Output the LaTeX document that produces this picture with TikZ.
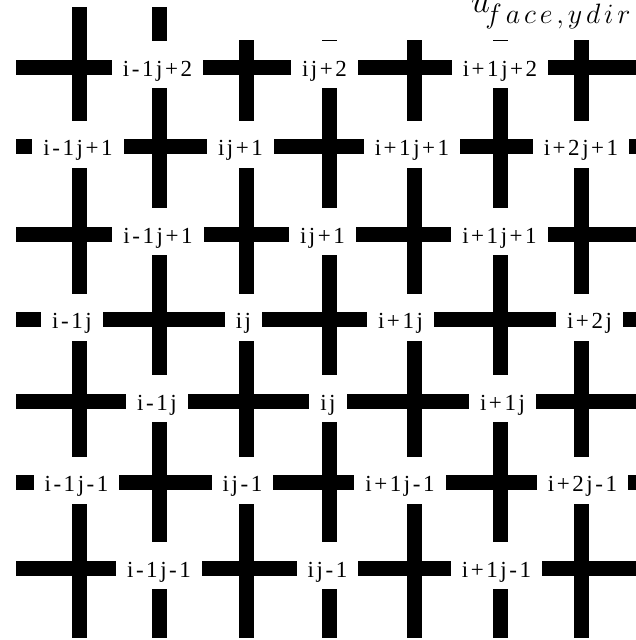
\RequirePackage{fix-cm}
\documentclass[tikz,border=0pt]{standalone}
\usepackage{fontspec}
\setmainfont{Liberation Serif}[LetterSpace=11]
\DeclareMathSizes{34}{34}{28}{20}

\begin{document}
\begin{tikzpicture}[
			x=1pt, y=-1pt,
			bar/.style={line width=15pt},
			cell/.style={fill=white, inner xsep=11pt, inner ysep=0pt, text height=35pt, text depth=12pt, font=\fontsize{23}{25}\selectfont},
			face_title/.style={anchor=base west, inner sep=0pt, font=\fontsize{34}{34}\selectfont}
			]
			\clip (0,0) rectangle (636,640);
			
			% Vertical grid bars
			\draw[bar] (79.5,7) -- (79.5,638);
			\draw[bar] (159.5,7) -- (159.5,638);
			\draw[bar] (246.5,7) -- (246.5,638);
			\draw[bar] (329.5,7) -- (329.5,638);
			\draw[bar] (414.5,7) -- (414.5,638);
			\draw[bar] (500.5,7) -- (500.5,638);
			\draw[bar] (581.5,7) -- (581.5,638);
			
			% Horizontal grid bars
			\draw[bar] (16,67) -- (645,67);
			\draw[bar] (16,146.5) -- (645,146.5);
			\draw[bar] (16,234) -- (645,234);
			\draw[bar] (16,319.5) -- (645,319.5);
			\draw[bar] (16,401) -- (645,401);
			\draw[bar] (16,482.5) -- (645,482.5);
			\draw[bar] (16,568) -- (645,568);
			
			% Title
			\fill[white] (200,0) rectangle (640,40);
			\node[face_title] (title) at (471,12) {$u_{\vrule width 0pt height 23.7pt \mkern-3mu f\mkern2.5mu a\mkern2.5mu c\mkern2.5mu e\mkern2.5mu ,\mkern2.5mu y\mkern2.5mu d\mkern2.5mu i\mkern2.5mu r}$};
			
			% Row j+2 (faces)
			\node[cell] (f_im1_jp2) at (157.5,64.5) {i-1j+2};
			\node[cell] (f_i_jp2) at (324.5,64.5) {ij+2};
			\node[cell] (f_ip1_jp2) at (500,64.5) {i+1j+2};
			
			% Row j+1 (cells)
			\node[cell] (c_im1_jp1) at (78,144) {i-1j+1};
			\node[cell] (c_i_jp1) at (240.5,144) {ij+1};
			\node[cell] (c_ip1_jp1) at (412,144) {i+1j+1};
			\node[cell] (c_ip2_jp1) at (581,144) {i+2j+1};
			
			% Row j+1 (faces)
			\node[cell] (f_im1_jp1) at (158,231.5) {i-1j+1};
			\node[cell] (f_i_jp1) at (322.5,231.5) {ij+1};
			\node[cell] (f_ip1_jp1) at (499.5,231.5) {i+1j+1};
			
			% Row j (cells)
			\node[cell] (c_im1_j) at (72,317) {i-1j};
			\node[cell] (c_i_j) at (243.5,317) {ij};
			\node[cell] (c_ip1_j) at (400.5,317) {i+1j};
			\node[cell] (c_ip2_j) at (589.5,317) {i+2j};
			
			% Row j (faces)
			\node[cell] (f_im1_j) at (157,398.5) {i-1j};
			\node[cell] (f_i_j) at (328,398.5) {ij};
			\node[cell] (f_ip1_j) at (502.5,398.5) {i+1j};
			
			% Row j-1 (cells)
			\node[cell] (c_im1_jm1) at (76.5,480) {i-1j-1};
			\node[cell] (c_i_jm1) at (242.5,480) {ij-1};
			\node[cell] (c_ip1_jm1) at (400,480) {i+1j-1};
			\node[cell] (c_ip2_jm1) at (582.5,480) {i+2j-1};
			
			% Row j-1 (faces)
			\node[cell] (f_im1_jm1) at (159,565.5) {i-1j-1};
			\node[cell] (f_i_jm1) at (327.5,565.5) {ij-1};
			\node[cell] (f_ip1_jm1) at (496.5,565.5) {i+1j-1};
			
		\end{tikzpicture}
\end{document}
